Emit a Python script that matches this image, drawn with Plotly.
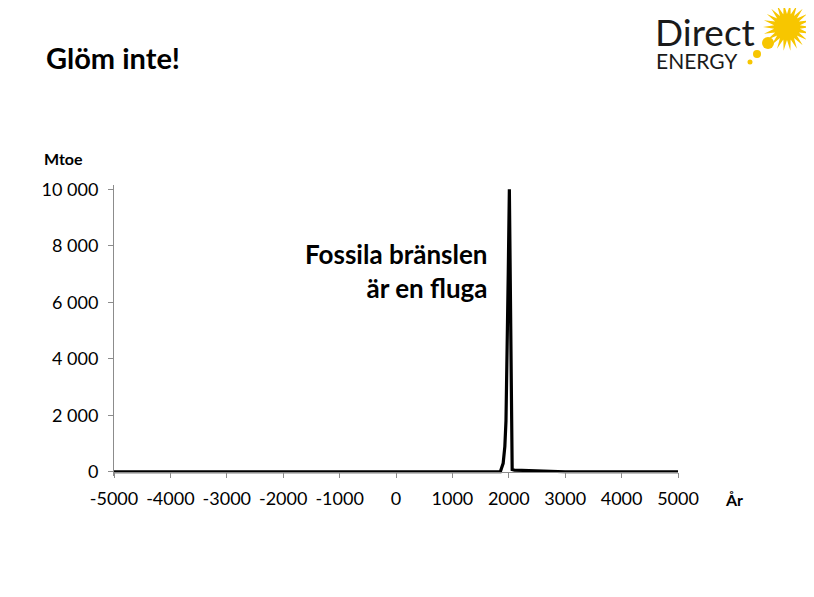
import numpy as np
import plotly.graph_objects as go

# Data
years = [-5000, 1000, 1850, 1900, 1930, 1950, 1970, 1990, 2010, 2060, 2100, 3000, 5000]
mtoe = [0, 0, 0, 300, 900, 1800, 4000, 7000, 10000, 80, 60, 0, 0]

y_tickvals = [0, 2000, 4000, 6000, 8000, 10000]
y_ticktext = ["0", "2 000", "4 000", "6 000", "8 000", "10 000"]
x_tickvals = [-5000, -4000, -3000, -2000, -1000, 0, 1000, 2000, 3000, 4000, 5000]
x_ticktext = [str(v) for v in x_tickvals]

W, H = 814, 597
OX, OY = 8, 8  # page body offset
L, R, T, B = 106, 144, 177, 129
PW, PH = W - L - R, H - T - B

def px(x):
    return (x - OX - L) / PW

def py(y):
    return (H - B - (y - OY)) / PH

FONT = "Lato"

fig = go.Figure()
fig.add_trace(go.Scatter(x=years, y=mtoe, mode="lines",
                         line=dict(color="black", width=3.2),
                         hoverinfo="skip", showlegend=False))

ymin = -150
ymax = 10150
fig.update_layout(
    width=W, height=H,
    margin=dict(l=L, r=R, t=T, b=B),
    paper_bgcolor="white", plot_bgcolor="white",
    font=dict(family=FONT, color="black", size=18),
    xaxis=dict(range=[-5000, 5000], tickvals=x_tickvals, ticktext=x_ticktext,
               showgrid=False, zeroline=False, showline=True, linecolor="#8c8c8c",
               linewidth=1, ticks="outside", ticklen=5, tickcolor="#8c8c8c",
               anchor="free", position=(0 - ymin) / (ymax - ymin),
               ticklabelstandoff=6,
               tickfont=dict(size=18, family=FONT)),
    yaxis=dict(range=[ymin, ymax], tickvals=y_tickvals, ticktext=y_ticktext,
               showgrid=False, zeroline=False, showline=True, linecolor="#8c8c8c",
               linewidth=1, ticks="outside", ticklen=5, tickcolor="#8c8c8c",
               ticklabelstandoff=6,
               tickfont=dict(size=18, family=FONT)),
)

annotations = [
    dict(x=px(44), y=py(57), text="<b>Glöm inte!</b>", xanchor="left", yanchor="middle",
         font=dict(size=29, family=FONT, color="black")),
    dict(x=px(42), y=py(158), text="<b>Mtoe</b>", xanchor="left", yanchor="middle",
         font=dict(size=16, family=FONT, color="black")),
    dict(x=px(723), y=py(499), text="<b>År</b>", xanchor="left", yanchor="middle",
         font=dict(size=16, family=FONT, color="black")),
    dict(x=px(490), y=py(271), text="<b>Fossila bränslen<br>är en fluga</b>", xanchor="right",
         yanchor="middle", align="right",
         font=dict(size=26, family=FONT, color="black")),
    dict(x=px(653), y=py(31), text="Direct", xanchor="left", yanchor="middle",
         font=dict(size=37, family=FONT, color="#1a1a1a")),
    dict(x=px(654), y=py(61), text="ENERGY", xanchor="left", yanchor="middle",
         font=dict(size=21, family=FONT, color="#1a1a1a")),
]
for a in annotations:
    a.update(xref="paper", yref="paper", showarrow=False)
fig.update_layout(annotations=annotations)

# Sun logo (decoration)
cx, cy = 787, 27
n = 22
pts = []
for i in range(2 * n):
    ang = np.pi * i / n
    r = 24 if i % 2 == 0 else 13
    pts.append((px(cx + r * np.cos(ang)), py(cy + r * np.sin(ang))))
path = "M " + " L ".join(f"{a:.5f},{b:.5f}" for a, b in pts) + " Z"
shapes = [dict(type="path", path=path, xref="paper", yref="paper",
               fillcolor="#F7C600", line=dict(width=0))]
for (dx, dy, r) in [(cx, cy, 13), (768, 43, 6), (757, 54, 4), (750, 62, 2.5)]:
    shapes.append(dict(type="circle", xref="paper", yref="paper",
                       x0=px(dx - r), x1=px(dx + r), y0=py(dy + r), y1=py(dy - r),
                       fillcolor="#F7C600", line=dict(width=0)))
fig.update_layout(shapes=shapes)

fig.write_html("out.html")
